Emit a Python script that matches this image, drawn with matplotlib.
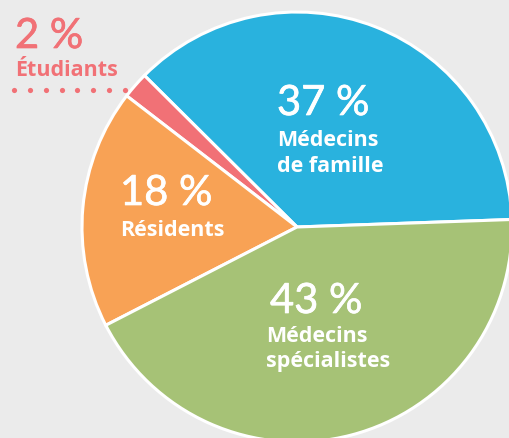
import matplotlib
matplotlib.use("Agg")
import matplotlib.pyplot as plt
import matplotlib.patheffects as pe
import numpy as np

# Data
categories = ["Médecins de famille", "Étudiants", "Résidents", "Médecins spécialistes"]
values = [37, 2, 18, 43]
pct_labels = ["37 %", "2 %", "18 %", "43 %"]
name_labels = ["Médecins\nde famille", "Étudiants", "Résidents", "Médecins\nspécialistes"]
colors = ["#29b2de", "#f17176", "#f8a255", "#a6c276"]

W, H = 509, 438
BG = "#ebebeb"

fig = plt.figure(figsize=(W / 100, H / 100), dpi=100, facecolor=BG)
ax = fig.add_axes([0, 0, 1, 1])
ax.set_facecolor(BG)

def Y(y):
    return H - y

ax.pie(values, colors=colors, startangle=2, counterclock=True,
       center=(297, Y(227)), radius=215, frame=True,
       wedgeprops=dict(edgecolor="white", linewidth=2.2))

ax.set_xlim(0, W)
ax.set_ylim(0, H)
ax.set_aspect("equal")
ax.axis("off")

PCT_FONT = "Lato"
NAME_FONT = "Open Sans"
white = "white"
red = colors[1]

# label positions (left x, baseline y of percent, baseline of first name line)
label_pos = {
    0: (277, 115, 146.5, white),
    1: (15, 48, 76, red),
    2: (120, 205, 235.5, white),
    3: (270, 313, 342, white),
}
line_gap = 25

for i, (x, yp, yn, col) in label_pos.items():
    ax.text(x, Y(yp), pct_labels[i], fontsize=30, family=PCT_FONT, color=col,
            ha="left", va="baseline", fontweight="normal",
            path_effects=[pe.withStroke(linewidth=0.5, foreground=col)])
    for k, line in enumerate(name_labels[i].split("\n")):
        ax.text(x + (-4 if i == 3 else 0), Y(yn + k * line_gap), line, fontsize=15.5,
                family=NAME_FONT, fontweight="bold", color=col, ha="left", va="baseline")

# dotted leader under "Étudiants"
dots_x = np.linspace(14, 125, 8)
ax.scatter(dots_x, [Y(90)] * len(dots_x), s=14, color=red, linewidths=0, zorder=5)

fig.savefig("out.png", dpi=100, facecolor=BG)
